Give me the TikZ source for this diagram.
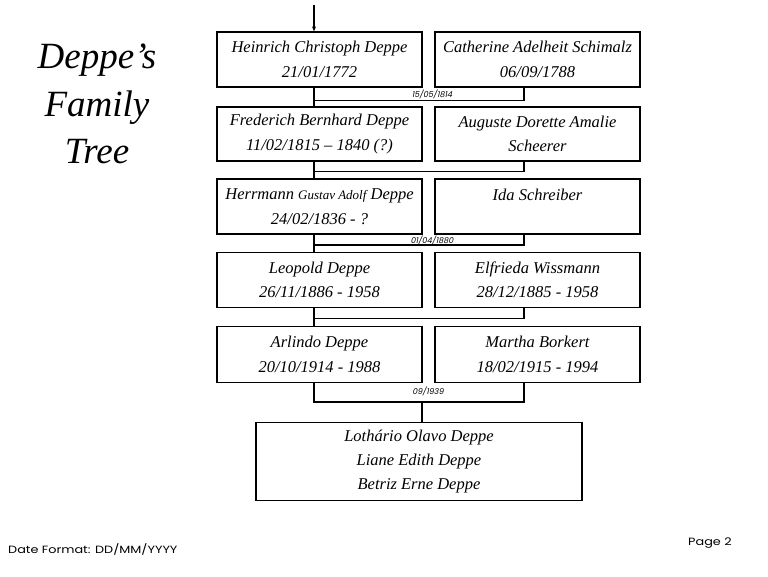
\documentclass[tikz,border=0pt]{standalone}
\usepackage{fontspec}
\usetikzlibrary{arrows.meta}
\setmainfont{Liberation Serif}
\newfontfamily\footfont[FakeStretch=1.22]{Poppins}
\newfontfamily\datefont[FakeSlant=0.2]{Poppins}
\tikzset{
  person/.style={draw, line width=1.3pt, minimum width=205pt, minimum height=55pt, inner sep=0pt, align=center, font=\fontsize{16.5}{24.5}\selectfont\itshape},
  link/.style={line width=1.3pt},
  datelbl/.style={font=\datefont\fontsize{8}{9}\selectfont, inner sep=0pt},
}
\begin{document}
\begin{tikzpicture}[x=1pt,y=-1pt]
\useasboundingbox (0,0) rectangle (768,576);
\coordinate (xl) at (314,0);
\coordinate (xr) at (524,0);
% title
\node[font=\fontsize{37}{47.5}\selectfont\itshape, align=center] (title) at (97,104) {Deppe's\\Family\\Tree};
% row 1
\node[person] (h1) at (319.5,59.5) {Heinrich Christoph Deppe\\21/01/1772};
\node[person] (w1) at (537.5,59.5) {Catherine Adelheit Schimalz\\06/09/1788};
% row 2
\node[person, minimum height=54pt] (h2) at (319.5,134) {Frederich Bernhard Deppe\\11/02/1815 -- 1840 (?)};
\node[person, minimum height=54pt] (w2) at (537.5,134) {Auguste Dorette Amalie\\Scheerer};
% row 3
\node[person] (h3) at (319.5,206.5) {Herrmann {\fontsize{13}{24}\selectfont Gustav Adolf} Deppe\\24/02/1836 - ?};
\node[person] (w3) at (537.5,206.5) {};
\node[font=\fontsize{16.5}{24}\selectfont\itshape] (w3t) at (537.5,195) {Ida Schreiber};
% row 4
\node[person] (h4) at (319.5,280) {Leopold Deppe\\26/11/1886 - 1958};
\node[person] (w4) at (537.5,280) {Elfrieda Wissmann\\28/12/1885 - 1958};
% row 5
\node[person, minimum height=56pt] (h5) at (319.5,354.5) {Arlindo Deppe\\20/10/1914 - 1988};
\node[person, minimum height=56pt] (w5) at (537.5,354.5) {Martha Borkert\\18/02/1915 - 1994};
% children
\node[person, minimum width=326pt, minimum height=78pt, font=\fontsize{16.5}{24}\selectfont\itshape] (kids) at (419,461.5) {Lothário Olavo Deppe\\Liane Edith Deppe\\Betriz Erne Deppe};

% connectors
\coordinate (top) at (314,5);
\draw[link,-{Stealth[length=5pt,width=4pt]}] (top) -- (top |- h1.north);
\coordinate (m1) at (314,100.5);
\draw[link] (h1.south -| m1) -- (h2.north -| m1);
\draw[link] (m1) -| (w1.south -| xr);
\node[datelbl] (d1) at (432,94.5) {15/05/1814};

\coordinate (m2) at (314,171.5);
\draw[link] (h2.south -| m2) -- (h3.north -| m2);
\draw[link] (m2) -| (w2.south -| xr);

\coordinate (m3) at (314,245);
\draw[link] (h3.south -| m3) -- (h4.north -| m3);
\draw[link] (m3) -| (w3.south -| xr);
\node[datelbl] (d3) at (432,240.5) {01/04/1880};

\coordinate (m4) at (314,318.5);
\draw[link] (h4.south -| m4) -- (h5.north -| m4);
\draw[link] (m4) -| (w4.south -| xr);

\coordinate (m5) at (422,402);
\draw[link] (h5.south -| xl) |- (m5) -| (w5.south -| xr);
\draw[link] (m5) -- (kids.north -| m5);
\node[datelbl] (d5) at (428,391.5) {09/1939};

% footer
\node[anchor=west, font=\footfont\fontsize{10.5}{12}\selectfont, inner sep=0pt] (fmt) at (8,549) {Date Format: DD/MM/YYYY};
\node[anchor=west, font=\footfont\fontsize{10.5}{12}\selectfont, inner sep=0pt] (pg) at (688,543) {Page 2};
\end{tikzpicture}
\end{document}
